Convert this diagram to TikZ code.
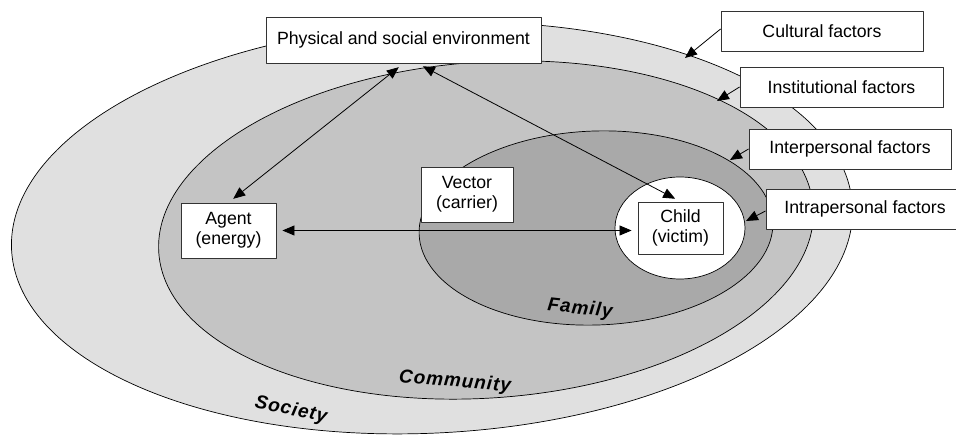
\documentclass[tikz,border=0pt]{standalone}
\usepackage{fontspec}
\setmainfont{Liberation Sans}
\newfontfamily\ringfont[LetterSpace=5]{Liberation Sans}
\usetikzlibrary{arrows.meta}
\definecolor{societygray}{HTML}{E0E0E0}
\definecolor{communitygray}{HTML}{C4C4C4}
\definecolor{familygray}{HTML}{A9A9A9}
\begin{document}
\begin{tikzpicture}[x=1pt, y=-1pt, line join=round, >={Triangle[length=12pt,width=10pt]},
	box/.style={draw=black!80, line width=0.9pt, fill=white, align=center, inner sep=0pt,
		font=\fontsize{17.7}{20}\selectfont},
	ring/.style={draw=black, line width=0.7pt},
	link/.style={<->, line width=0.8pt, shorten <=6pt, shorten >=6pt},
	ringlabel/.style={font=\ringfont\fontsize{19}{24}\selectfont\bfseries\itshape, inner sep=1pt}]
	\useasboundingbox (0,0) rectangle (956,435);
	% nested settings
	\draw[ring, fill=societygray, rotate around={3:(432,228)}] (432,228) ellipse [x radius=421, y radius=205];
	\draw[ring, fill=communitygray, rotate around={4:(486,230)}] (486,230) ellipse [x radius=328, y radius=168];
	\draw[ring, fill=familygray, rotate around={2:(596,228)}] (596,228) ellipse [x radius=177, y radius=97];
	\draw[ring, fill=white] (680,228) ellipse [x radius=65, y radius=51];
	\node[ringlabel, rotate=-12] at (291,410) {Society};
	\node[ringlabel, rotate=-5] at (455,382) {Community};
	\node[ringlabel, rotate=-6] at (580,309) {Family};
	% boxes
	\node[box, minimum width=275, minimum height=46] (phys) at (403.5,40) {Physical and social environment};
	\node[box, minimum width=95, minimum height=55] (agent) at (228.5,230.5) {Agent\\(energy)};
	\node[box, minimum width=92, minimum height=55] (vector) at (467,194.5) {Vector\\(carrier)};
	\node[box, minimum width=85, minimum height=52] (child) at (680.5,228) {Child\\(victim)};
	\foreach \n/\t/\x/\y/\w in {cultural/Cultural/822/31/202, institutional/Institutional/841.5/87/203,
		interpersonal/Interpersonal/850/149/202, intrapersonal/Intrapersonal/865/209/198}
	\node[box, minimum width=\w, minimum height=40] (\n) at (\x,\y) {\t\ factors};
	% influences
	\draw[link] (phys.south) -- (agent.north);
	\draw[link] ([xshift=14pt]phys.south) -- (child.north);
	\draw[link] (agent.east) -- (agent.east -| child.west);
	\coordinate (cultural tip) at (685,58);
	\coordinate (institutional tip) at (717,101);
	\coordinate (interpersonal tip) at (730,160);
	\coordinate (intrapersonal tip) at (746,221);
	\foreach \n/\dy in {cultural/2, institutional/0, interpersonal/0, intrapersonal/-2}
	\draw[->, line width=0.8pt] ([yshift=\dy pt]\n.west) -- (\n\space tip);
\end{tikzpicture}
\end{document}
